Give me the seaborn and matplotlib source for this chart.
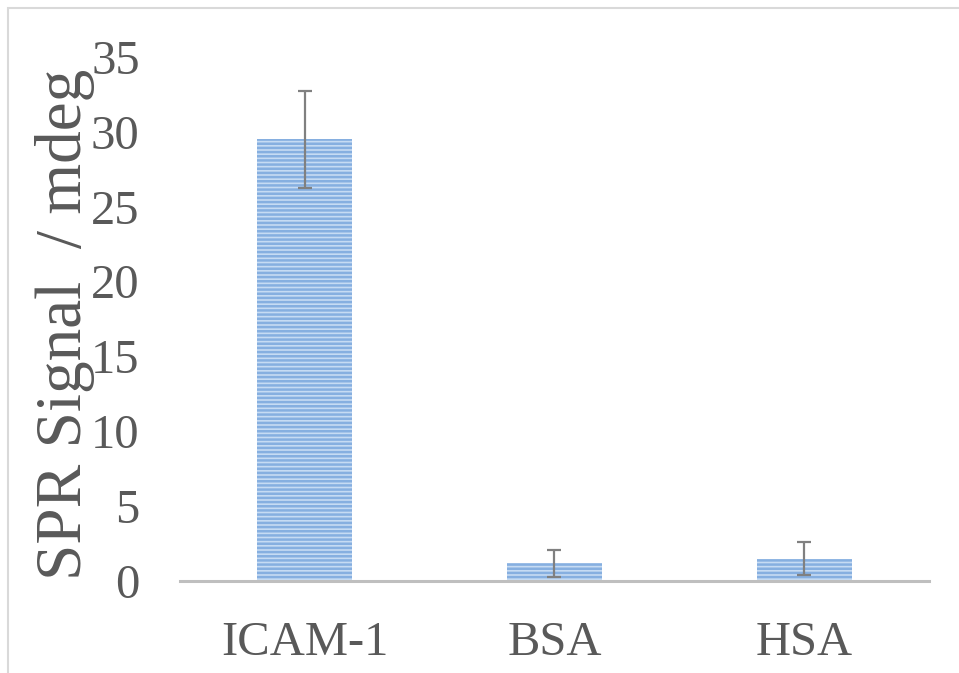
import matplotlib
matplotlib.use("Agg")
import matplotlib.pyplot as plt
import seaborn as sns
import pandas as pd
from matplotlib.patches import Rectangle

# values
categories = ["ICAM-1", "BSA", "HSA"]
signal = [29.5, 1.15, 1.45]
errors = [3.25, 0.9, 1.1]

df = pd.DataFrame({"target": categories, "signal": signal})

sns.set_style("white")
plt.rcParams["font.family"] = ["Liberation Serif", "DejaVu Serif"]
plt.rcParams["hatch.linewidth"] = 1.8

text_grey = "#595959"

fig = plt.figure(figsize=(9.59, 6.73), dpi=100)
ax = fig.add_axes([0.1877, 0.1374, 0.781, 0.778])

sns.barplot(data=df, x="target", y="signal", color="#c6dbf3",
            width=0.38, errorbar=None, saturation=1, ax=ax)
for p in ax.patches:
    p.set_hatch("----")
    p.set_edgecolor("#86afe0")
    p.set_linewidth(0)

ax.errorbar(range(len(categories)), signal, yerr=errors, fmt="none",
            ecolor="#808080", elinewidth=1.6, capsize=4.7, capthick=1.6)

ax.set_ylim(0, 35)
ax.set_xlim(-0.5, 2.5)
ax.set_yticks(range(0, 36, 5))
ax.set_xlabel("")
ax.set_ylabel("SPR Signal  / mdeg", fontsize=47, color=text_grey)
ax.yaxis.set_label_coords(-0.113, 0.49)
ax.tick_params(axis="both", length=0, labelsize=35, labelcolor=text_grey, pad=29)

sns.despine(ax=ax, left=True, top=True, right=True)
ax.spines["bottom"].set_color("#bfbfbf")
ax.spines["bottom"].set_linewidth(2.2)

# light chart frame
fig.patches.append(Rectangle((8 / 959, -0.1), 1.2, 1.1 - 8 / 673,
                             transform=fig.transFigure, fill=False,
                             edgecolor="#d9d9d9", linewidth=1.5))

fig.savefig("out.png", dpi=100)
